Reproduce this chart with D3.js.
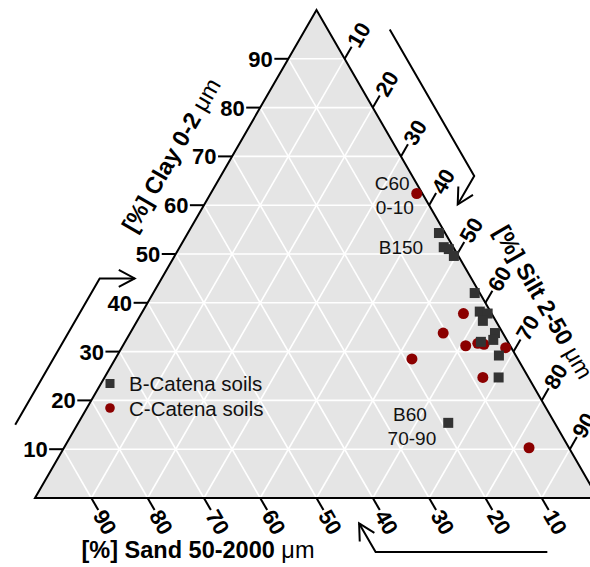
<!DOCTYPE html>
<html>
<head>
<meta charset="utf-8">
<script src="https://cdn.jsdelivr.net/npm/d3@7"></script>
<style>
  html, body { margin: 0; padding: 0; background: #fff; }
  svg { display: block; font-family: "Liberation Sans", Arial, Helvetica, sans-serif; }
</style>
</head>
<body>
<svg id="chart" width="590" height="567"></svg>
<script>
// ---------- data (percent) ----------
const bClay = [54.3, 51.4, 51.0, 49.6, 42.0, 38.2, 37.8, 36.3, 33.8, 32.4, 32.0, 29.2, 24.7, 15.4];
const bSilt = [44.6, 46.9, 48.0, 49.6, 57.1, 59.9, 61.5, 61.4, 64.8, 65.2, 63.2, 67.8, 70.0, 65.7];
const bSand = [1.1, 1.7, 1.0, 0.8, 0.9, 1.9, 0.7, 2.3, 1.4, 2.4, 4.8, 3.0, 5.3, 18.9];

const cClay = [62.4, 37.8, 33.8, 31.2, 31.7, 31.5, 30.8, 28.5, 24.7, 10.3];
const cSilt = [36.6, 57.2, 55.6, 60.9, 62.8, 64.0, 68.2, 52.7, 67.2, 82.6];
const cSand = [1.0, 5.0, 10.6, 7.9, 5.5, 4.5, 1.0, 18.8, 8.1, 7.1];

const tickValues = [10, 20, 30, 40, 50, 60, 70, 80, 90];
const tickLabels = ["10", "20", "30", "40", "50", "60", "70", "80", "90"];
const gridValues = [10, 20, 30, 40, 50, 60, 70, 80, 90];

const seriesNames = ["B-Catena soils", "C-Catena soils"];
const seriesColors = ["#333333", "#8b0000"];

const annoText = ["C60", "0-10", "B150", "B60", "70-90"];
const annoClay = [64.5, 59.6, 51.4, 17.2, 12.3];
const annoSilt = [31.2, 34.1, 39.3, 58.0, 60.8];

const axisTitles = ["[%] Clay 0-2 ", "[%] Silt 2-50 ", "[%] Sand 50-2000 "];

// ---------- geometry ----------
const svg = d3.select("#chart");
const xScale = d3.scaleLinear().domain([0, 100]).range([35, 598]);
const yScale = d3.scaleLinear().domain([0, 100]).range([498, 10]);
function proj(clay, silt) { return [xScale(silt + clay / 2), yScale(clay)]; }

const S60 = Math.sin(Math.PI / 3), C60 = 0.5;

// triangle background
const tri = [proj(0, 0), proj(0, 100), proj(100, 0)];
svg.append("path")
  .attr("d", "M" + tri.map(p => p.join(",")).join("L") + "Z")
  .attr("fill", "#e5e5e5");

// grid
const grid = svg.append("g").attr("stroke", "#ffffff").attr("stroke-width", 1.6).attr("fill", "none");
gridValues.forEach(v => {
  let a = proj(v, 0), b = proj(v, 100 - v);
  grid.append("line").attr("x1", a[0]).attr("y1", a[1]).attr("x2", b[0]).attr("y2", b[1]);
  a = proj(0, v); b = proj(100 - v, v);
  grid.append("line").attr("x1", a[0]).attr("y1", a[1]).attr("x2", b[0]).attr("y2", b[1]);
  a = proj(0, 100 - v); b = proj(100 - v, 0);
  grid.append("line").attr("x1", a[0]).attr("y1", a[1]).attr("x2", b[0]).attr("y2", b[1]);
});

// border
svg.append("path")
  .attr("d", "M" + tri.map(p => p.join(",")).join("L") + "Z")
  .attr("fill", "none").attr("stroke", "#000").attr("stroke-width", 2)
  .attr("stroke-linejoin", "miter");

// ticks and tick labels
const tickLen = 14;
const ticks = svg.append("g").attr("stroke", "#000").attr("stroke-width", 2);
const labels = svg.append("g").attr("font-size", 22).attr("font-weight", "bold").attr("fill", "#000");

tickValues.forEach((v, i) => {
  let p = proj(v, 0);
  let e = [p[0] - tickLen, p[1]];
  ticks.append("line").attr("x1", p[0]).attr("y1", p[1]).attr("x2", e[0]).attr("y2", e[1]);
  labels.append("text").attr("x", e[0] - 1.5).attr("y", e[1]).attr("dy", "0.36em")
    .attr("text-anchor", "end").text(tickLabels[i]);

  p = proj(100 - v, v);
  let d = [C60, -S60];
  e = [p[0] + tickLen * d[0], p[1] + tickLen * d[1]];
  ticks.append("line").attr("x1", p[0]).attr("y1", p[1]).attr("x2", e[0]).attr("y2", e[1]);
  labels.append("text")
    .attr("transform", `translate(${e[0] + 1.5 * d[0]},${e[1] + 1.5 * d[1]}) rotate(-60)`)
    .attr("dy", "0.36em").attr("text-anchor", "start").text(tickLabels[i]);

  p = proj(0, 100 - v);
  d = [C60, S60];
  e = [p[0] + tickLen * d[0], p[1] + tickLen * d[1]];
  ticks.append("line").attr("x1", p[0]).attr("y1", p[1]).attr("x2", e[0]).attr("y2", e[1]);
  labels.append("text")
    .attr("transform", `translate(${e[0] + 1.5 * d[0]},${e[1] + 1.5 * d[1]}) rotate(60)`)
    .attr("dy", "0.36em").attr("text-anchor", "start").text(tickLabels[i]);
});

// axis titles
function title(txt, transform) {
  const t = svg.append("text").attr("transform", transform)
    .attr("text-anchor", "middle").attr("dy", "0.36em")
    .attr("font-size", 23.5).attr("font-weight", "bold").attr("fill", "#000");
  t.append("tspan").text(txt);
  t.append("tspan").attr("font-weight", "normal").text("\u03bcm");
}
title(axisTitles[0], "translate(171,155) rotate(-60)");
title(axisTitles[1], "translate(544,302) rotate(60)");
title(axisTitles[2], "translate(198,550)");

// arrows
function arrow(pts) {
  const line = d3.line();
  svg.append("path").attr("d", line(pts)).attr("fill", "none")
    .attr("stroke", "#000").attr("stroke-width", 2).attr("stroke-linejoin", "miter");
  const end = pts[pts.length - 1], prev = pts[pts.length - 2];
  const dx = end[0] - prev[0], dy = end[1] - prev[1];
  const L = Math.hypot(dx, dy), ux = dx / L, uy = dy / L;
  const ang = 28 * Math.PI / 180, hl = 18;
  const b1 = [end[0] - hl * (ux * Math.cos(ang) - uy * Math.sin(ang)), end[1] - hl * (ux * Math.sin(ang) + uy * Math.cos(ang))];
  const b2 = [end[0] - hl * (ux * Math.cos(-ang) - uy * Math.sin(-ang)), end[1] - hl * (ux * Math.sin(-ang) + uy * Math.cos(-ang))];
  svg.append("path").attr("d", line([b1, end, b2])).attr("fill", "none")
    .attr("stroke", "#000").attr("stroke-width", 2).attr("stroke-linejoin", "miter");
}
const off = 62, shortLen = 33;
{
  const a = proj(15, 0), b = proj(45, 0);
  const s = [a[0] - off, a[1]], m = [b[0] - off, b[1]];
  arrow([s, m, [m[0] + 35, m[1]]]);
}
{
  const a = proj(96, 4), b = proj(66, 34);
  const s = [a[0] + off, a[1]], m = [b[0] + off, b[1]];
  arrow([s, m, [m[0] - shortLen * C60, m[1] + shortLen * S60]]);
}
{
  const a = proj(0, 91), b = proj(0, 60.5);
  const s = [a[0], a[1] + 54], m = [b[0], b[1] + 54];
  arrow([s, m, [m[0] - shortLen * C60, m[1] - shortLen * S60]]);
}

// points: C (circles) below B (squares)
const cData = cClay.map((c, i) => ({ clay: c, silt: cSilt[i], sand: cSand[i] }));
const bData = bClay.map((c, i) => ({ clay: c, silt: bSilt[i], sand: bSand[i] }));

svg.append("g").selectAll("circle").data(cData).join("circle")
  .attr("cx", d => proj(d.clay, d.silt)[0])
  .attr("cy", d => proj(d.clay, d.silt)[1])
  .attr("r", 5.5).attr("fill", seriesColors[1]);

const sq = 10;
svg.append("g").selectAll("rect").data(bData).join("rect")
  .attr("x", d => proj(d.clay, d.silt)[0] - sq / 2)
  .attr("y", d => proj(d.clay, d.silt)[1] - sq / 2)
  .attr("width", sq).attr("height", sq).attr("fill", seriesColors[0]);

// annotations
annoText.forEach((t, i) => {
  const p = proj(annoClay[i], annoSilt[i]);
  svg.append("text").attr("x", p[0]).attr("y", p[1]).attr("dy", "0.36em")
    .attr("text-anchor", "middle").attr("font-size", 19).attr("fill", "#111").text(t);
});

// legend
const lg = svg.append("g");
lg.append("rect").attr("x", 110 - 4.5).attr("y", 383.5 - 4.5).attr("width", 9).attr("height", 9).attr("fill", seriesColors[0]);
lg.append("circle").attr("cx", 110).attr("cy", 408).attr("r", 4.8).attr("fill", seriesColors[1]);
seriesNames.forEach((n, i) => {
  lg.append("text").attr("x", 129).attr("y", 384 + i * 24.5).attr("dy", "0.36em")
    .attr("font-size", 20.5).attr("fill", "#111").text(n);
});
</script>
</body>
</html>
